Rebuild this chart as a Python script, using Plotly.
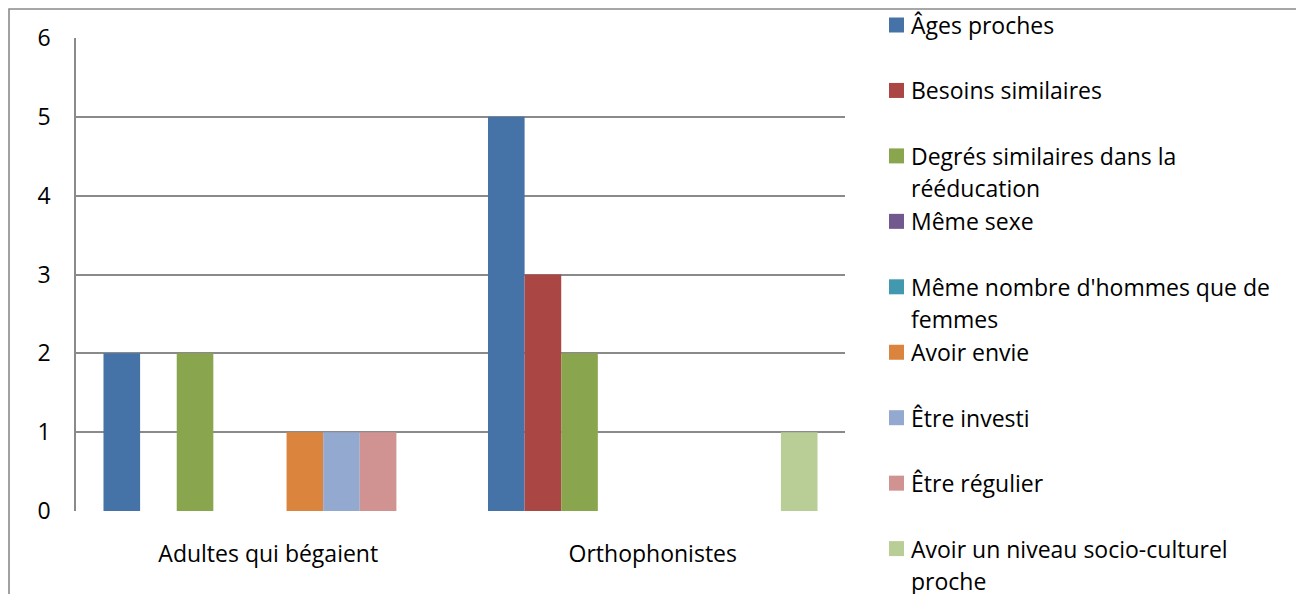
import plotly.graph_objects as go

categories = ["Adultes qui bégaient", "Orthophonistes"]
series_names = [
    "Âges proches",
    "Besoins similaires",
    "Degrés similaires dans la|rééducation",
    "Même sexe",
    "Même nombre d'hommes que de|femmes",
    "Avoir envie",
    "Être investi",
    "Être régulier",
    "Avoir un niveau socio-culturel|proche",
]
series_colors = ["#4572A7", "#AA4643", "#89A54E", "#71588F", "#4198AF",
                 "#DB843D", "#93A9CF", "#D19392", "#B9CD96"]
values_adultes = [2, 0, 2, 0, 0, 1, 1, 1, 0]
values_ortho = [5, 3, 2, 0, 0, 0, 0, 0, 1]
y_ticks = [0, 1, 2, 3, 4, 5, 6]

OFF = 8  # page body margin
W, H = 1304 - OFF, 594 - OFF
L, R, T, B = 76 - OFF, 845 - OFF, 38 - OFF, 511 - OFF
FONT = "Open Sans"
FS = 23

def px(x):
    return (x - OFF - L) / (R - L)

def py(y):
    return (B - (y - OFF)) / (B - T)

fig = go.Figure()
for i, name in enumerate(series_names):
    fig.add_trace(go.Bar(
        x=categories,
        y=[values_adultes[i], values_ortho[i]],
        name=name.replace("|", " "),
        marker=dict(color=series_colors[i], line=dict(width=0)),
        showlegend=False,
    ))

shapes = []
annotations = []
# Outer chart border
shapes.append(dict(type="rect", xref="paper", yref="paper",
                   x0=px(9), x1=px(1297), y0=py(620), y1=py(9),
                   line=dict(color="#8a8a8a", width=1.6), layer="below"))
shapes.append(dict(type="line", xref="paper", yref="paper",
                   x0=px(1298.6), x1=px(1298.6), y0=py(620), y1=py(10),
                   line=dict(color="#a8a8a8", width=1.5), layer="below"))

# Custom legend
start, step = 25, 65.45
for i, name in enumerate(series_names):
    cy = start + i * step
    shapes.append(dict(type="rect", xref="paper", yref="paper",
                       x0=px(889), x1=px(904), y0=py(cy + 7.5), y1=py(cy - 7.5),
                       fillcolor=series_colors[i], line=dict(width=0)))
    for j, line in enumerate(name.split("|")):
        annotations.append(dict(
            xref="paper", yref="paper", x=px(908.5), y=py(cy + j * 32.5),
            xanchor="left", yanchor="middle", text=line, showarrow=False,
            font=dict(family=FONT, size=FS, color="black"),
        ))

fig.update_layout(
    width=W, height=H,
    margin=dict(l=L, r=W - R, t=T, b=H - B, pad=0),
    paper_bgcolor="white", plot_bgcolor="white",
    barmode="group", bargap=0.143, bargroupgap=0,
    font=dict(family=FONT, size=FS, color="black"),
    shapes=shapes, annotations=annotations,
    xaxis=dict(showgrid=False, showline=False, ticks="", zeroline=False,
               tickfont=dict(family=FONT, size=FS, color="black"),
               ticklabelstandoff=27, fixedrange=True),
    yaxis=dict(range=[0, 6], tickvals=y_ticks, showgrid=True,
               gridcolor="#8a8a8a", gridwidth=1.5, showline=True,
               linecolor="#8a8a8a", linewidth=1.5, zeroline=False,
               ticks="", tickfont=dict(family=FONT, size=FS, color="black"),
               ticklabelstandoff=19, fixedrange=True),
)

fig.write_html("out.html")
